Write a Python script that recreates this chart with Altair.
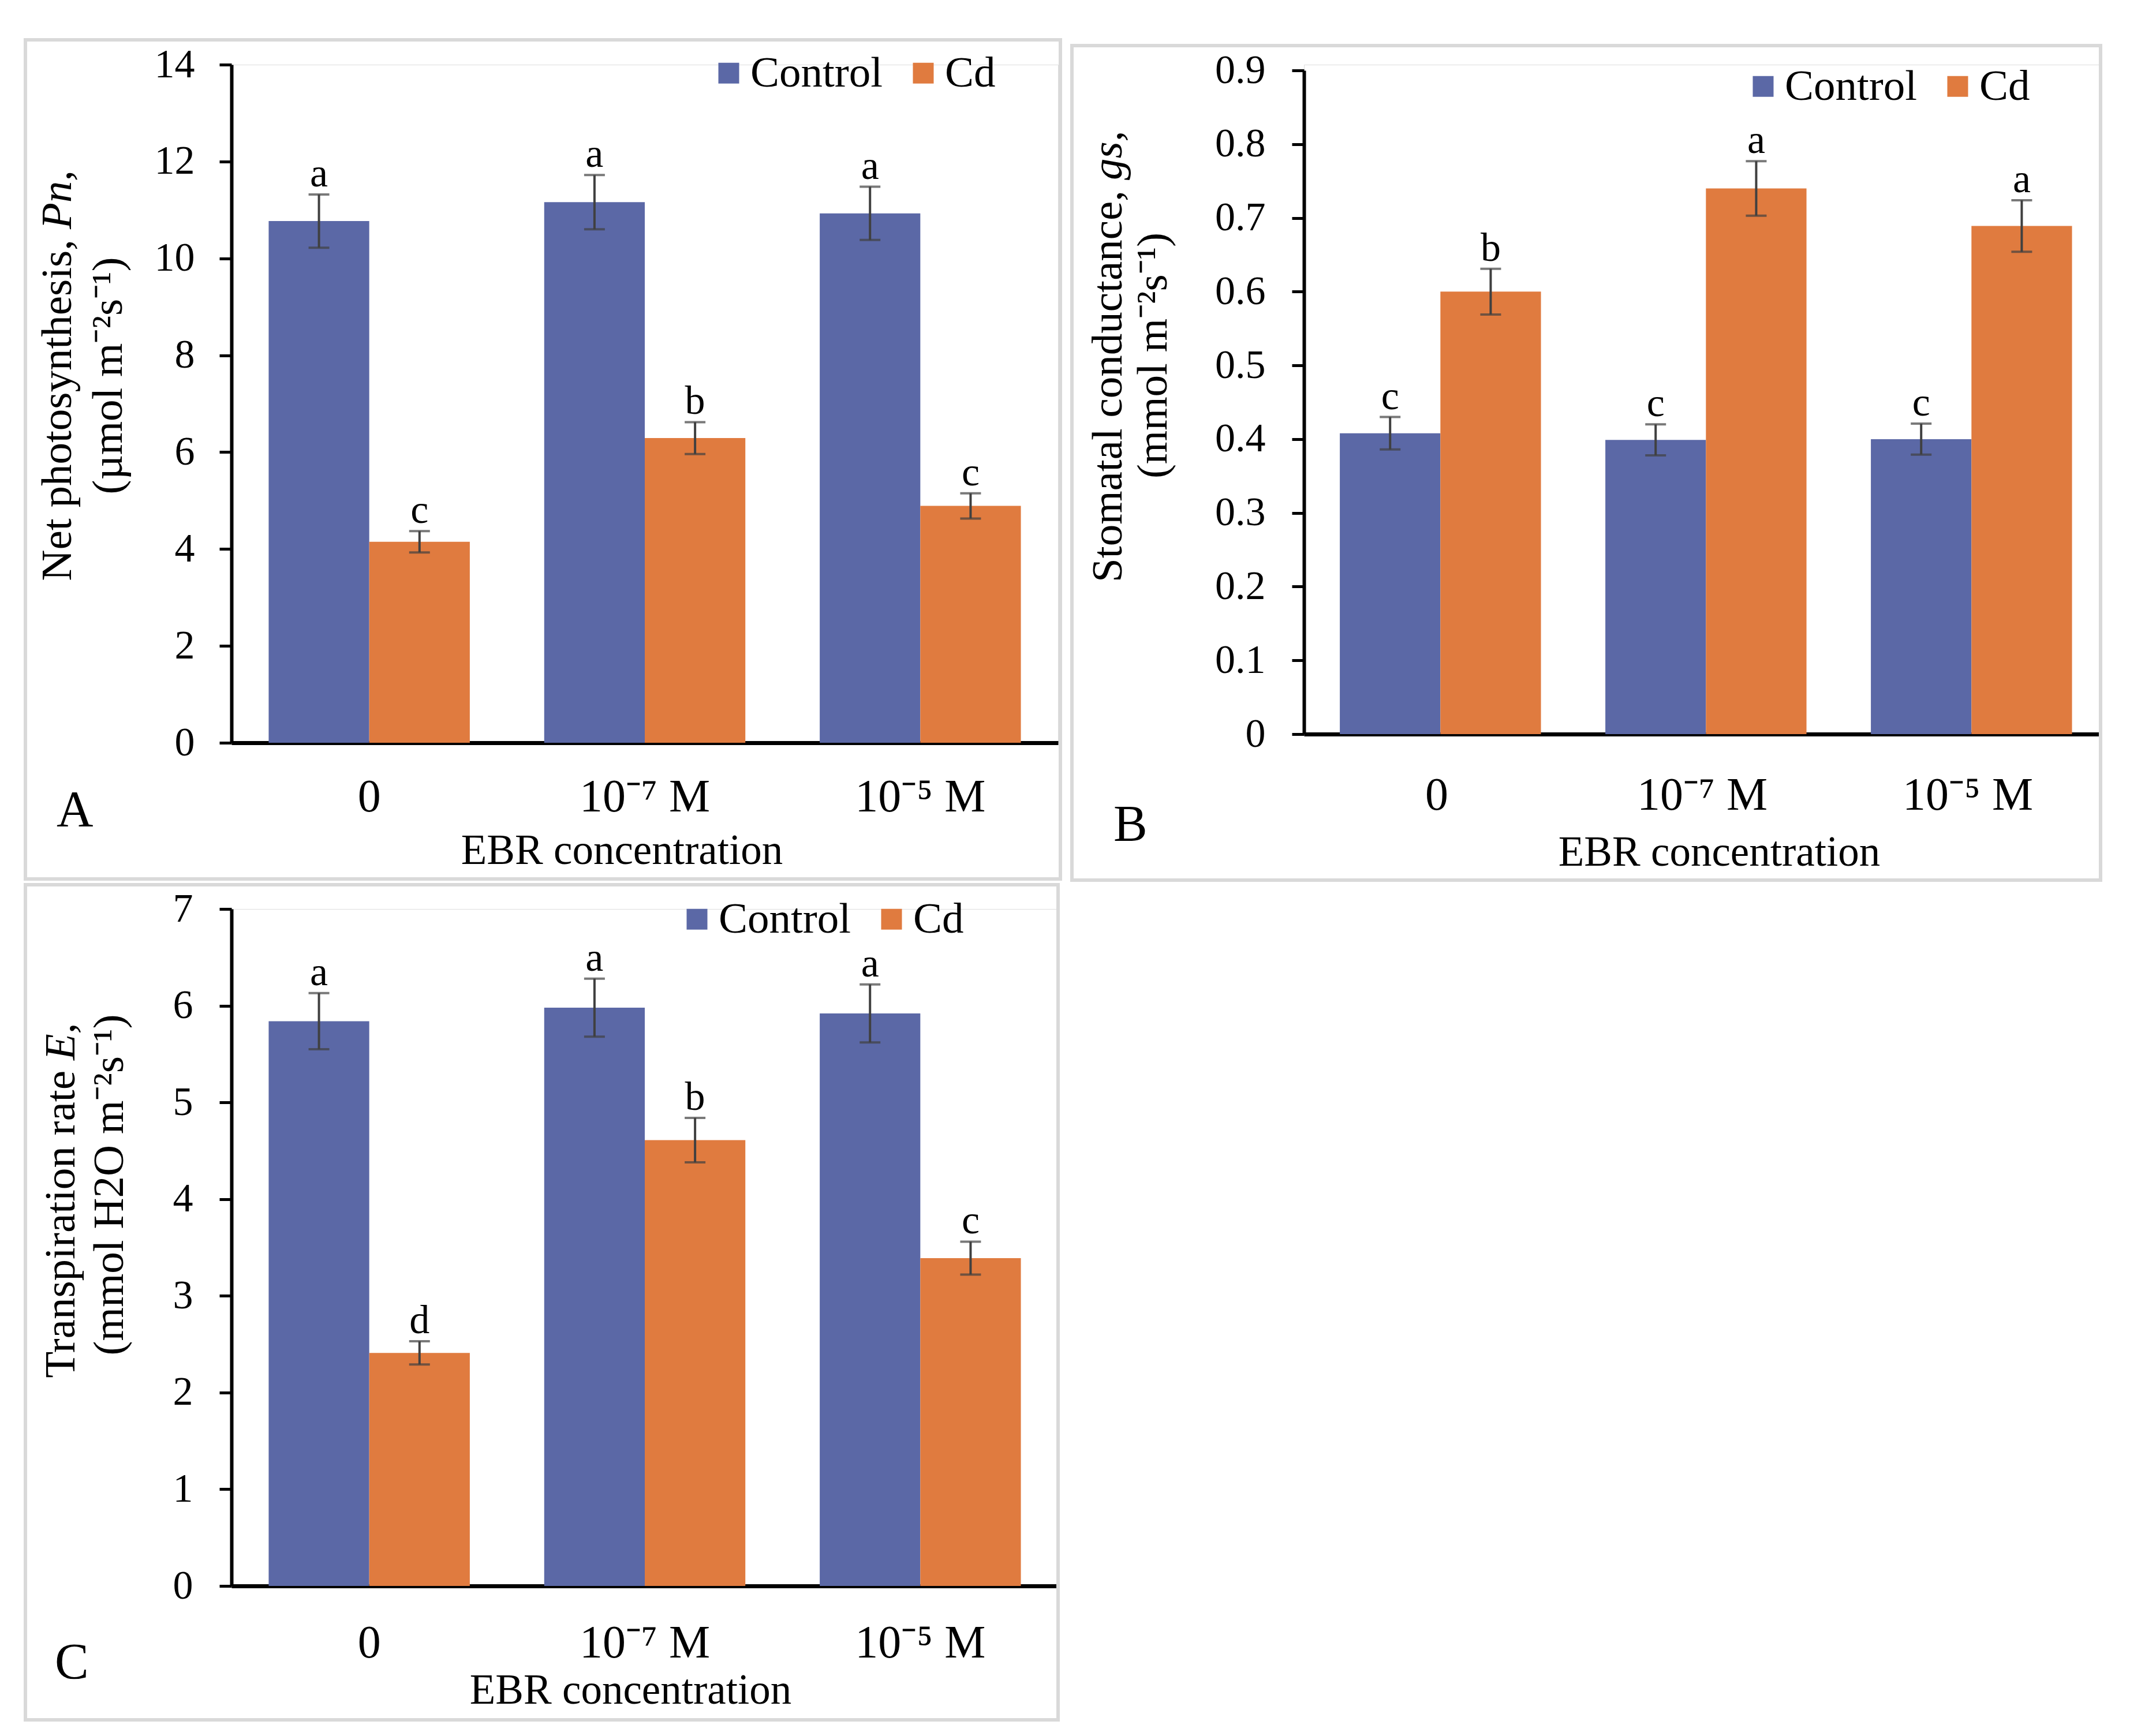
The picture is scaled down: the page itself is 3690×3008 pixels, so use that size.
import altair as alt
import pandas as pd

# ---------------- data ----------------
groups = ["0", "10⁻⁷ M", "10⁻⁵ M"]
treatments = ["Control", "Cd"]
colors = ["#5B68A6", "#E07B3F"]

pn_control = [10.77, 11.16, 10.93]
pn_control_err = [0.55, 0.56, 0.55]
pn_cd = [4.15, 6.29, 4.89]
pn_cd_err = [0.22, 0.33, 0.26]
pn_control_letters = ["a", "a", "a"]
pn_cd_letters = ["c", "b", "c"]

gs_control = [0.408, 0.399, 0.400]
gs_control_err = [0.022, 0.021, 0.021]
gs_cd = [0.600, 0.740, 0.689]
gs_cd_err = [0.031, 0.037, 0.035]
gs_control_letters = ["c", "c", "c"]
gs_cd_letters = ["b", "a", "a"]

e_control = [5.84, 5.98, 5.92]
e_control_err = [0.29, 0.30, 0.30]
e_cd = [2.41, 4.61, 3.39]
e_cd_err = [0.12, 0.23, 0.17]
e_control_letters = ["a", "a", "a"]
e_cd_letters = ["d", "b", "c"]

pn_ticks = [0, 2, 4, 6, 8, 10, 12, 14]
gs_ticks = [0, 0.1, 0.2, 0.3, 0.4, 0.5, 0.6, 0.7, 0.8, 0.9]
e_ticks = [0, 1, 2, 3, 4, 5, 6, 7]

FONT = "Liberation Serif"
ERR_COLOR = "#404040"
TITLE_SIZE = 75
SPACE_W = 19  # width of a space at the title font size


def make_df(ctrl, ctrl_err, cd, cd_err, l_ctrl, l_cd):
    rows = []
    for i, g in enumerate(groups):
        rows.append(dict(group=g, treatment="Control", value=ctrl[i], err=ctrl_err[i], letter=l_ctrl[i]))
        rows.append(dict(group=g, treatment="Cd", value=cd[i], err=cd_err[i], letter=l_cd[i]))
    df = pd.DataFrame(rows)
    df["lo"] = df["value"] - df["err"]
    df["hi"] = df["value"] + df["err"]
    return df


def text_layer(text, xpos, ypos, size, angle=0, align="center", italic=False):
    kw = dict(align=align, baseline="alphabetic", fontSize=size, font=FONT,
              fontStyle="italic" if italic else "normal", color="black")
    if angle:
        kw["angle"] = angle
    return alt.Chart(pd.DataFrame({"t": [text]})).mark_text(**kw).encode(
        x=alt.value(xpos), y=alt.value(ypos), text="t:N")


def panel(df, c):
    top = c.get("top", 0)
    xaxis = alt.Axis(title="EBR concentration", ticks=False, labelPadding=c["xlabpad"],
                     labelFontSize=80, labelAngle=0, labelFont=FONT, labelColor="black", labelLimit=800,
                     domainColor="black", domainWidth=7,
                     titleX=c["tx"], titleY=c["ty"], titleBaseline="alphabetic",
                     titleFontSize=73, titleFont=FONT, titleFontWeight="normal", titleColor="black")
    x = alt.X("group:N", sort=groups, scale=alt.Scale(paddingInner=0.27, paddingOuter=0.135), axis=xaxis)
    xo = alt.XOffset("treatment:N", sort=treatments, scale=alt.Scale(paddingInner=0, paddingOuter=0))
    yscale = alt.Scale(domain=[0, c["ymax"]], nice=False, range=[c["h"], top])
    yaxis = alt.Axis(title=None, values=c["ticks"], format=c["fmt"], labelPadding=c["ylabpad"],
                     tickSize=21, tickWidth=5, tickColor="black", domainColor="black", domainWidth=6,
                     labelFontSize=70, labelFont=FONT, labelColor="black", grid=False)
    legend = alt.Legend(title=None, orient="none", direction="horizontal",
                        legendX=c["lx"], legendY=c["ly"] + top, symbolType="square", symbolSize=1296,
                        symbolStrokeWidth=0, labelFontSize=75, labelFont=FONT, labelColor="black",
                        labelLimit=800, labelOffset=0, columnPadding=32, padding=0)
    color = alt.Color("treatment:N", sort=treatments,
                      scale=alt.Scale(domain=treatments, range=colors), legend=legend)
    base = alt.Chart(df)
    bars = base.mark_bar().encode(x=x, xOffset=xo, y=alt.Y("value:Q", scale=yscale, axis=yaxis), color=color)
    rules = base.mark_rule(color=ERR_COLOR, strokeWidth=4).encode(
        x=x, xOffset=xo, y=alt.Y("lo:Q", scale=yscale, axis=yaxis), y2="hi:Q")
    cap_hi = base.mark_tick(color=ERR_COLOR, size=36, thickness=4).encode(
        x=x, xOffset=xo, y=alt.Y("hi:Q", scale=yscale, axis=yaxis))
    cap_lo = base.mark_tick(color=ERR_COLOR, size=36, thickness=4).encode(
        x=x, xOffset=xo, y=alt.Y("lo:Q", scale=yscale, axis=yaxis))
    letters = base.mark_text(dy=-14, baseline="alphabetic", fontSize=70, font=FONT, color="black").encode(
        x=x, xOffset=xo, y=alt.Y("hi:Q", scale=yscale, axis=yaxis), text="letter:N")

    s = c["split"] + top
    t1a = text_layer(c["title1"], c["t1x"], s + SPACE_W // 2, TITLE_SIZE, angle=270, align="right")
    t1b = text_layer(c["title1i"], c["t1x"], s - SPACE_W // 2, TITLE_SIZE, angle=270, align="left", italic=True)
    t2 = text_layer(c["title2"], c["t2x"], c["t2y"] + top, TITLE_SIZE, angle=270, align="center")
    letter = text_layer(c["panel"], c["px"], c["py"] + top, 88, align="left")
    box = alt.Chart(pd.DataFrame({"k": [1]})).mark_rect(
        fillOpacity=0, stroke="#d9d9d9", strokeWidth=6).encode(
        x=alt.value(c["bx"]), x2=alt.value(c["bx2"]),
        y=alt.value(c["by"] + top), y2=alt.value(c["by2"] + top))
    layers = [bars, rules, cap_hi, cap_lo, letters, t1a, t1b, t2, letter, box]
    return alt.layer(*layers).properties(width=c["w"], height=c["h"])


cfgA = dict(w=1432, h=1175, ymax=14, ticks=pn_ticks, fmt="d", ylabpad=43, xlabpad=55, tx=676, ty=209,
            lx=824, ly=-23,
            title1="Net photosynthesis,", title1i="Pn,", title2="(µmol m⁻²s⁻¹)",
            t1x=-278, t2x=-190, split=294, t2y=539,
            panel="A", px=-303, py=1319, bx=-357, bx2=1436, by=-43, by2=1411)
cfgB = dict(w=1380, h=1160, top=10, ymax=0.9, ticks=gs_ticks, fmt=".1~f", ylabpad=46, xlabpad=67, tx=719, ty=227,
            lx=758, ly=-10,
            title1="Stomatal conductance,", title1i="gs,", title2="(mmol m⁻²s⁻¹)",
            t1x=-316, t2x=-238, split=199, t2y=494,
            panel="B", px=-330, py=1334, bx=-402, bx2=1380, by=-43, by2=1403)
cfgC = dict(w=1432, h=1173, ymax=7, ticks=e_ticks, fmt="d", ylabpad=46, xlabpad=60, tx=691, ty=203,
            lx=769, ly=-20,
            title1="Transpiration rate", title1i="E,", title2="(mmol H2O m⁻²s⁻¹)",
            t1x=-272, t2x=-188, split=271, t2y=478,
            panel="C", px=-306, py=1333, bx=-357, bx2=1432, by=-42, by2=1405)

dfA = make_df(pn_control, pn_control_err, pn_cd, pn_cd_err, pn_control_letters, pn_cd_letters)
dfB = make_df(gs_control, gs_control_err, gs_cd, gs_cd_err, gs_control_letters, gs_cd_letters)
dfC = make_df(e_control, e_control_err, e_cd, e_cd_err, e_control_letters, e_cd_letters)

top_row = alt.hconcat(panel(dfA, cfgA), panel(dfB, cfgB), spacing=12).resolve_scale(
    color="independent", x="independent", y="independent").resolve_legend(color="independent")
chart = alt.vconcat(top_row, panel(dfC, cfgC), spacing=0).resolve_scale(
    color="independent", x="independent", y="independent").resolve_legend(color="independent").properties(
    padding={"left": 32, "top": 57, "right": 5, "bottom": 5}
).configure_view(strokeWidth=0).configure(background="white")

chart.save("out.html", embed_options={"renderer": "svg", "actions": False})
